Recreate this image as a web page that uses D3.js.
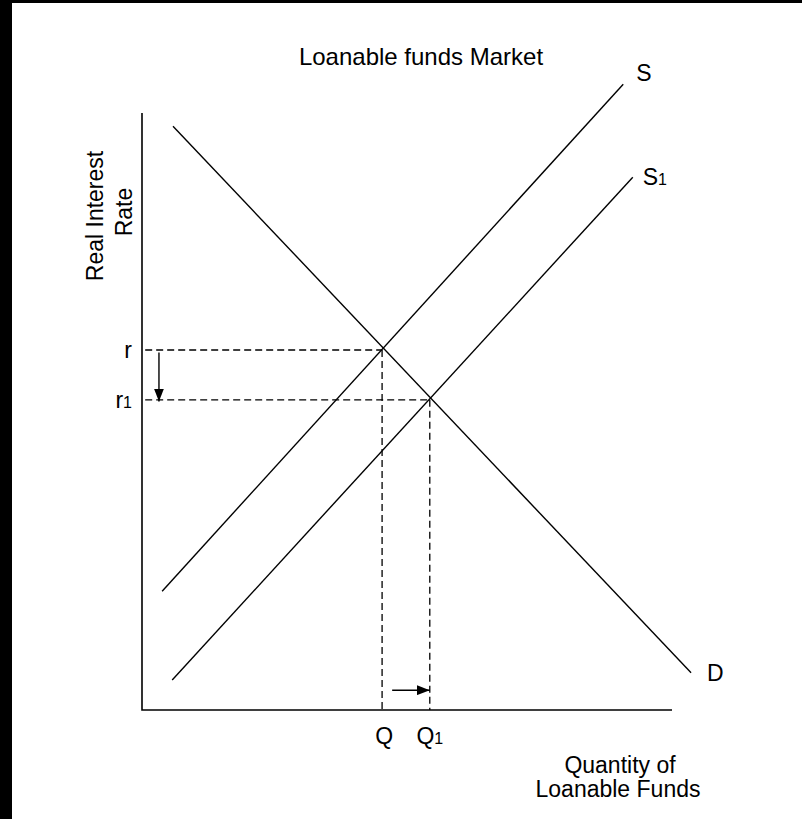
<!DOCTYPE html>
<html>
<head>
<meta charset="utf-8">
<script src="https://cdn.jsdelivr.net/npm/d3@7"></script>
<style>
  html, body { margin: 0; padding: 0; background: #fff; }
  svg { display: block; }
  text { font-family: "Liberation Sans", Arial, Helvetica, sans-serif; fill: #000; }
</style>
</head>
<body>
<svg id="chart" width="802" height="819"></svg>
<script>
// curves, in abstract units (0..100 on each axis)
var supplyS  = [[3.8, 19.8], [90.8, 104.3]];
var supplyS1 = [[5.7, 5.0], [92.6, 88.8]];
var demandD  = [[5.85, 97.3], [103.6, 6.2]];
var curveLabels = ["S", "S1", "D"];

// equilibrium levels
var rateLabels = ["r", "r1"];
var rateValues = [60, 51.7];
var quantityLabels = ["Q", "Q1"];
var quantityValues = [45.3, 54.3];

// shift arrows
var rateShift = [59.6, 51.4];   // drawn at x = rateShiftAt
var rateShiftAt = 3.2;
var qtyShift = [47.2, 54.3];    // drawn at y = qtyShiftAt
var qtyShiftAt = 3.3;

var axisMax = [100, 99.5];

var svg = d3.select('#chart');

// frame strips of the original screenshot
svg.append('rect').attr('x', 0).attr('y', 0).attr('width', 802).attr('height', 3).attr('fill', '#000');
svg.append('rect').attr('x', 0).attr('y', 0).attr('width', 12).attr('height', 819).attr('fill', '#000');

var x = d3.scaleLinear().domain([0, 100]).range([142, 672]);
var y = d3.scaleLinear().domain([0, 100]).range([710, 110]);

var line = d3.line()
  .x(function (d) { return x(d[0]); })
  .y(function (d) { return y(d[1]); });

// arrow head
svg.append('defs').append('marker')
  .attr('id', 'head')
  .attr('markerUnits', 'userSpaceOnUse')
  .attr('markerWidth', 14).attr('markerHeight', 10)
  .attr('refX', 13).attr('refY', 5)
  .attr('orient', 'auto')
  .append('path')
  .attr('d', 'M0,0 L13,5 L0,10 Z')
  .attr('fill', '#000');

// axes
svg.append('path')
  .attr('d', line([[0, axisMax[1]], [0, 0], [axisMax[0], 0]]))
  .attr('fill', 'none').attr('stroke', '#000').attr('stroke-width', 1.6);

// dashed guides
var guides = svg.append('g')
  .attr('stroke', '#000').attr('stroke-width', 1.3)
  .attr('stroke-dasharray', '7,4').attr('fill', 'none');

rateValues.forEach(function (r, i) {
  var q = quantityValues[i];
  guides.append('path').attr('d', line([[0.6, r], [q, r]]));
  guides.append('path').attr('d', line([[q, r], [q, 0]]));
});

// curves
var curves = [supplyS, supplyS1, demandD];
svg.append('g').selectAll('path').data(curves).enter()
  .append('path')
  .attr('d', line)
  .attr('fill', 'none').attr('stroke', '#000').attr('stroke-width', 1.4);

// shift arrows
svg.append('path')
  .attr('d', line([[rateShiftAt, rateShift[0]], [rateShiftAt, rateShift[1]]]))
  .attr('stroke', '#000').attr('stroke-width', 1.4).attr('marker-end', 'url(#head)');
svg.append('path')
  .attr('d', line([[qtyShift[0], qtyShiftAt], [qtyShift[1], qtyShiftAt]]))
  .attr('stroke', '#000').attr('stroke-width', 1.4).attr('marker-end', 'url(#head)');

// label with optional subscript "1"
function label(sel, txt, size) {
  sel.append('tspan').text(txt[0]).style('font-size', size + 'px');
  if (txt.length > 1) sel.append('tspan').text(txt.slice(1)).style('font-size', '16px');
  return sel;
}

// curve labels at the top/right ends
var labelOffsets = [[13, -3], [10, 8], [16, 8]];
curves.forEach(function (c, i) {
  var end = c[c.length - 1];
  label(svg.append('text')
    .attr('x', x(end[0]) + labelOffsets[i][0])
    .attr('y', y(end[1]) + labelOffsets[i][1]), curveLabels[i], 23);
});

// rate labels
rateLabels.forEach(function (t, i) {
  label(svg.append('text')
    .attr('x', x(0) - 10)
    .attr('y', y(rateValues[i]) + 8)
    .attr('text-anchor', 'end'), t, 23);
});

// quantity labels
quantityLabels.forEach(function (t, i) {
  label(svg.append('text')
    .attr('x', x(quantityValues[i]) + (i === 0 ? 2 : 0))
    .attr('y', y(0) + 34)
    .attr('text-anchor', 'middle'), t, 23);
});

// titles
svg.append('text').attr('x', 421).attr('y', 65)
  .attr('text-anchor', 'middle').style('font-size', '24px')
  .text('Loanable funds Market');

svg.append('text').attr('x', 620).attr('y', 773)
  .attr('text-anchor', 'middle').style('font-size', '23px')
  .text('Quantity of');
svg.append('text').attr('x', 618).attr('y', 797)
  .attr('text-anchor', 'middle').style('font-size', '23px')
  .text('Loanable Funds');

svg.append('text').attr('transform', 'translate(103,216) rotate(-90)')
  .attr('text-anchor', 'middle').style('font-size', '23px')
  .text('Real Interest');
svg.append('text').attr('transform', 'translate(132,212) rotate(-90)')
  .attr('text-anchor', 'middle').style('font-size', '23px')
  .text('Rate');
</script>
</body>
</html>
